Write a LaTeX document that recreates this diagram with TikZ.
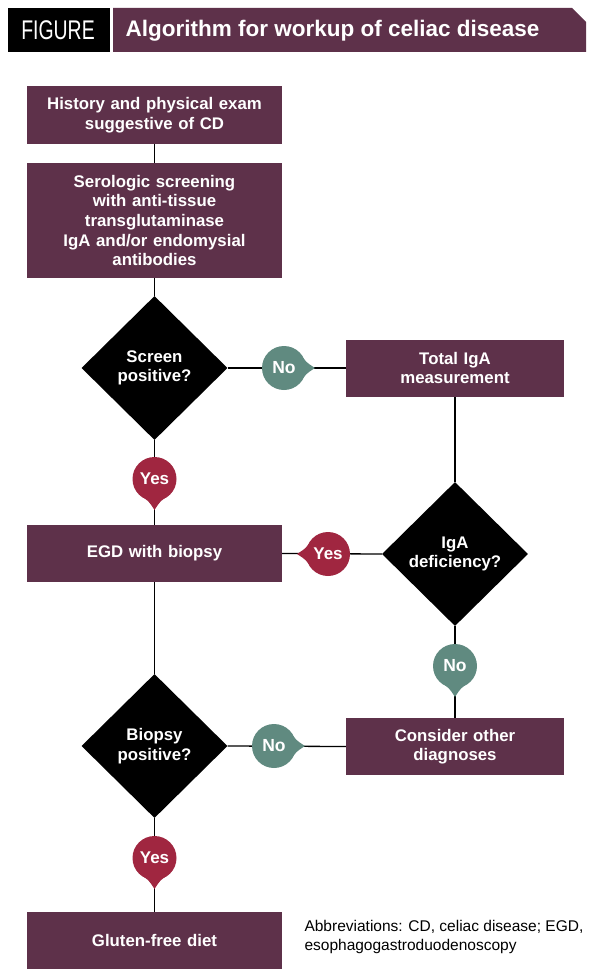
\documentclass[tikz,border=0pt]{standalone}
\usepackage{fontspec}
\setmainfont{Liberation Sans}
\newfontfamily\condfont[FakeStretch=0.72]{Liberation Sans}
\usetikzlibrary{shapes.geometric,calc,backgrounds}
\definecolor{boxpurple}{RGB}{94,49,74}
\definecolor{yesred}{RGB}{160,38,64}
\definecolor{noteal}{RGB}{96,138,128}
\newcommand\badgetip[3]{%
    \fill[#3] ($(#1)+(#2-42:21.5)$) .. controls ($(#1)+(#2-14:23)$) .. ($(#1)+(#2:31)$)
        .. controls ($(#1)+(#2+14:23)$) .. ($(#1)+(#2+42:21.5)$) -- cycle;}

\begin{document}
\begin{tikzpicture}[
    x=1pt, y=1pt,
    every node/.style={font=\bfseries\fontsize{16.8}{19.6}\selectfont, text=white, align=center},
    stepbox/.style={fill=boxpurple, minimum width=255, minimum height=57, inner sep=4, text width=245},
    sidebox/.style={fill=boxpurple, minimum width=218, minimum height=57, inner sep=4, text width=210},
    question/.style={diamond, fill=black, shape aspect=1, minimum width=146, minimum height=144, inner sep=0},
    yesbadge/.style={circle, fill=yesred, minimum size=44, inner sep=0, font=\bfseries\fontsize{17}{17}\selectfont},
    nobadge/.style={circle, fill=noteal, minimum size=44, inner sep=0, font=\bfseries\fontsize{17.5}{17.5}\selectfont},
    link/.style={line width=1.3pt}
]
\useasboundingbox (0,0) rectangle (590,-979);

\fill[black] (8,-8) rectangle (110,-52);
\node[font=\condfont\fontsize{27}{27}\selectfont] (figlabel) at (58,-30) {FIGURE};
\fill[boxpurple] (113,-8) -- (572,-8) -- (586,-22) -- (586,-52) -- (113,-52) -- cycle;
\node[anchor=west, font=\bfseries\fontsize{22.5}{26}\selectfont] (title) at (122,-31) {Algorithm for workup of celiac disease};

\node[stepbox] (history) at (154.5,-115) {History and physical exam\\suggestive of CD};
\node[stepbox, minimum height=115] (screening) at (154.5,-220.5) {Serologic screening\\with anti-tissue\\transglutaminase\\IgA and/or endomysial\\antibodies};
\node[question] (screen) at (154.5,-368) {Screen\\positive?};
\node[sidebox] (totaliga) at (455,-368) {Total IgA\\measurement};
\node[nobadge] (no1) at (284,-368) {No};
\node[yesbadge] (yes1) at (154.5,-479) {Yes};
\node[stepbox] (egd) at (154.5,-553.5) {EGD with biopsy};
\node[question] (igadef) at (455,-554) {IgA\\deficiency?};
\node[yesbadge] (yes2) at (328,-554) {Yes};
\node[nobadge] (no2) at (455,-666) {No};
\node[sidebox] (other) at (455,-746.5) {Consider other\\diagnoses};
\node[question] (biopsy) at (154.5,-746) {Biopsy\\positive?};
\node[nobadge] (no3) at (274,-746) {No};
\node[yesbadge] (yes3) at (154.5,-858) {Yes};
\node[stepbox] (diet) at (154.5,-940.5) {Gluten-free diet};
\node[anchor=north west, align=left, text=black, font=\fontsize{15.5}{18.5}\selectfont] (abbrev) at (301,-917) {Abbreviations: CD, celiac disease; EGD,\\esophagogastroduodenoscopy};

\badgetip{no1}{0}{noteal}
\badgetip{yes1}{-90}{yesred}
\badgetip{yes2}{180}{yesred}
\badgetip{no2}{-90}{noteal}
\badgetip{no3}{0}{noteal}
\badgetip{yes3}{-90}{yesred}

\begin{scope}[on background layer]
    \draw[link] (history) -- (screening);
    \draw[link] (screening) -- (screen);
    \draw[link] (screen.south) -- (yes1.center) -- (egd.north);
    \draw[link] (screen.east) -- (totaliga.west);
    \draw[link] (totaliga) -- (igadef);
    \draw[link] (igadef.west) -- (egd.east);
    \draw[link] (igadef.south) -- (other.north);
    \draw[link] (egd) -- (biopsy);
    \draw[link] (other.west) -- (biopsy.east);
    \draw[link] (biopsy.south) -- (diet.north);
\end{scope}
\end{tikzpicture}
\end{document}
